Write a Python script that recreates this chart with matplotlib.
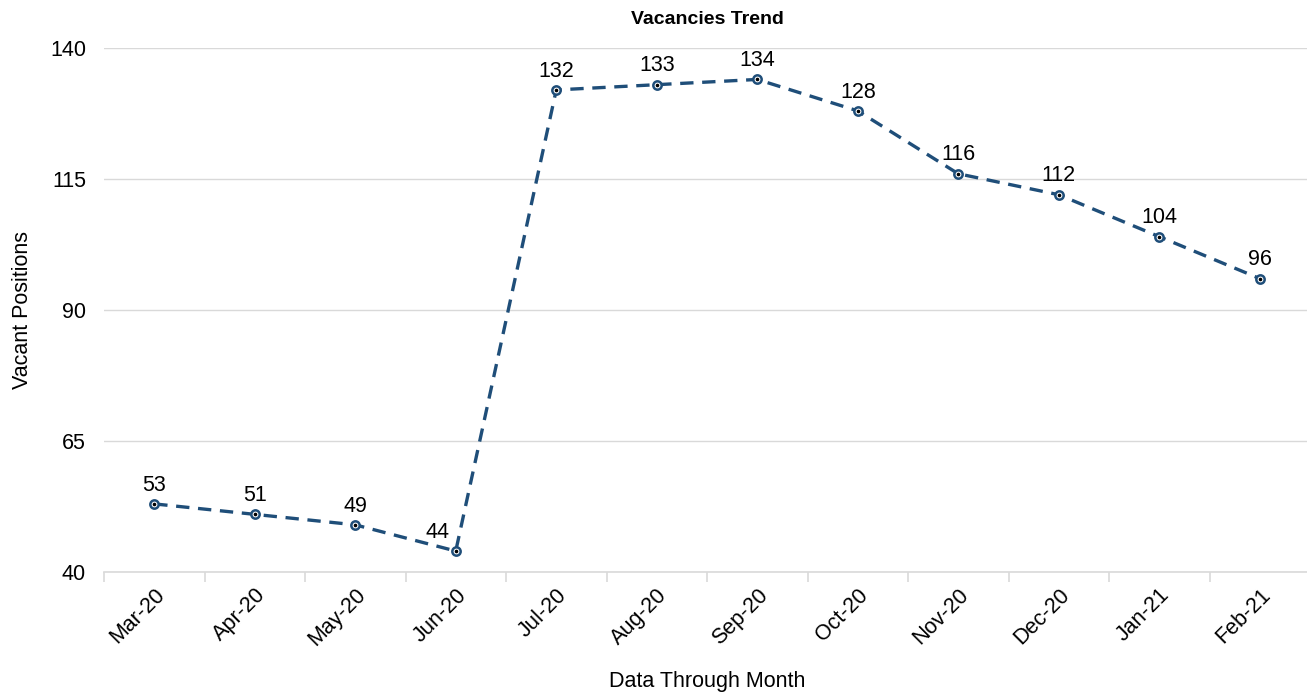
import matplotlib.pyplot as plt

plt.rcParams['font.family'] = ['Liberation Sans', 'DejaVu Sans']

months = ['Mar-20', 'Apr-20', 'May-20', 'Jun-20', 'Jul-20', 'Aug-20',
          'Sep-20', 'Oct-20', 'Nov-20', 'Dec-20', 'Jan-21', 'Feb-21']
vacancies = [53, 51, 49, 44, 132, 133, 134, 128, 116, 112, 104, 96]

fig = plt.figure(figsize=(13.07, 6.93), dpi=100)
ax = fig.add_axes([104 / 1307, 121 / 693, 1206 / 1307, 524 / 693])

x = list(range(len(months)))
ax.plot(x, vacancies, color='#1f4e79', lw=2.4, dashes=(4, 2.6),
        marker='o', ms=6, mfc='white', mec='#1f4e79', mew=1.8, zorder=3)
ax.plot(x, vacancies, ls='none', marker='o', ms=1.6, color='black', zorder=4)

for xi, v in zip(x, vacancies):
    dx = -13 if v == 44 else 0
    ax.annotate(str(v), (xi, v), xytext=(dx, 6), textcoords='offset points',
                ha='center', va='bottom', fontsize=15.5)

ax.set_xlim(-0.5, len(months) - 0.5)
ax.set_ylim(40, 140)
ax.set_yticks([40, 65, 90, 115, 140])
ax.set_xticks(x)
ax.set_xticklabels(months, rotation=45, ha='right', rotation_mode='anchor')
ax.set_xticks([i - 0.5 for i in range(len(months) + 1)], minor=True)
ax.tick_params(axis='x', which='major', length=0, pad=9, labelsize=15.5)
ax.tick_params(axis='x', which='minor', length=7, color='#d9d9d9', width=1.2)
ax.tick_params(axis='y', length=0, labelsize=15.5, pad=13)

ax.grid(axis='y', color='#d9d9d9', lw=1)
ax.set_axisbelow(True)
for s in ['top', 'right', 'left']:
    ax.spines[s].set_visible(False)
ax.spines['bottom'].set_color('#d9d9d9')
ax.spines['bottom'].set_linewidth(1.2)

ax.set_title('Vacancies Trend', fontsize=14, fontweight='bold', pad=17)
ax.set_xlabel('Data Through Month', fontsize=15.5, labelpad=15)
ax.set_ylabel('Vacant Positions', fontsize=15.5, labelpad=12)

fig.savefig('out.png', dpi=100)
